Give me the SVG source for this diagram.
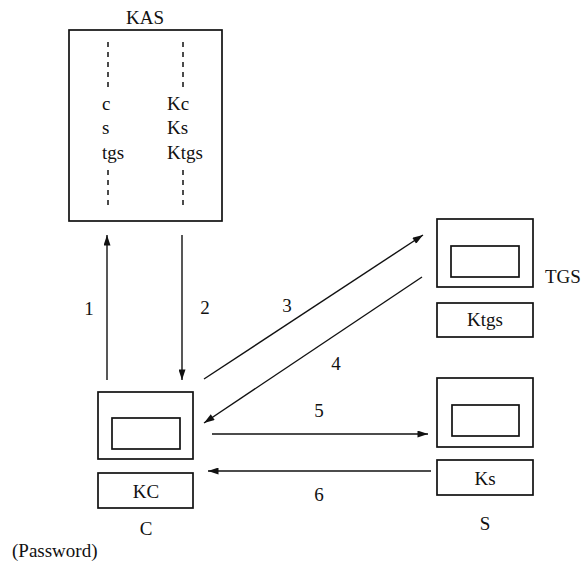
<svg xmlns="http://www.w3.org/2000/svg" width="586" height="575" viewBox="0 0 586 575" font-family="'Liberation Serif', 'Times New Roman', serif">
<style>
text{font-family:"Liberation Serif","Times New Roman",serif;font-size:19px;fill:#111}
.box{fill:none;stroke:#111;stroke-width:1.7}
.dash{stroke:#111;stroke-width:1.5;stroke-dasharray:5,5}
.arr{stroke:#111;stroke-width:1.4;fill:none;marker-end:url(#ah)}
.m{text-anchor:middle}
</style>
<defs>
<marker id="ah" viewBox="0 0 12 8" refX="12" refY="4" markerWidth="12" markerHeight="7" markerUnits="userSpaceOnUse" orient="auto">
<path d="M0,0 L12,4 L0,8 Z" fill="#111"/>
</marker>
</defs>
<rect width="586" height="575" fill="#fff"/>
<g id="KAS">
<text class="m" x="145" y="24">KAS</text>
<rect class="box" x="69" y="30" width="153" height="191"/>
<line class="dash" x1="108" y1="42" x2="108" y2="90"/>
<line class="dash" x1="108" y1="170" x2="108" y2="207"/>
<line class="dash" x1="183" y1="42" x2="183" y2="90"/>
<line class="dash" x1="183" y1="170" x2="183" y2="207"/>
<text x="102" y="110">c</text>
<text x="102" y="134">s</text>
<text x="102" y="159">tgs</text>
<text x="167" y="110">Kc</text>
<text x="167" y="134">Ks</text>
<text x="167" y="159">Ktgs</text>
</g>
<g id="C">
<rect class="box" x="98" y="392" width="95" height="67"/>
<rect class="box" x="112" y="418" width="68" height="31"/>
<rect class="box" x="98" y="473" width="95" height="35"/>
<text class="m" x="146" y="498">KC</text>
<text class="m" x="146" y="535">C</text>
<text x="12" y="557">(Password)</text>
</g>
<g id="TGS">
<rect class="box" x="437" y="219" width="96" height="68"/>
<rect class="box" x="451" y="246" width="68" height="31"/>
<text x="545" y="283">TGS</text>
<rect class="box" x="437" y="303" width="96" height="34"/>
<text class="m" x="485" y="326">Ktgs</text>
</g>
<g id="S">
<rect class="box" x="437" y="378" width="96" height="69"/>
<rect class="box" x="452" y="405" width="67" height="31"/>
<rect class="box" x="437" y="460" width="96" height="35"/>
<text class="m" x="485" y="485">Ks</text>
<text class="m" x="485" y="530">S</text>
</g>
<g id="connectors">
<line class="arr" x1="107" y1="380" x2="107" y2="235"/>
<line class="arr" x1="182" y1="235" x2="182" y2="380"/>
<line class="arr" x1="204" y1="379" x2="423" y2="235"/>
<line class="arr" x1="422" y1="277" x2="204" y2="423"/>
<line class="arr" x1="212" y1="434" x2="428" y2="434"/>
<line class="arr" x1="431" y1="471" x2="208" y2="471"/>
<text class="m" x="89" y="315">1</text>
<text class="m" x="205" y="314">2</text>
<text class="m" x="287" y="312">3</text>
<text class="m" x="336" y="370">4</text>
<text class="m" x="319" y="417">5</text>
<text class="m" x="319" y="501">6</text>
</g>
</svg>
